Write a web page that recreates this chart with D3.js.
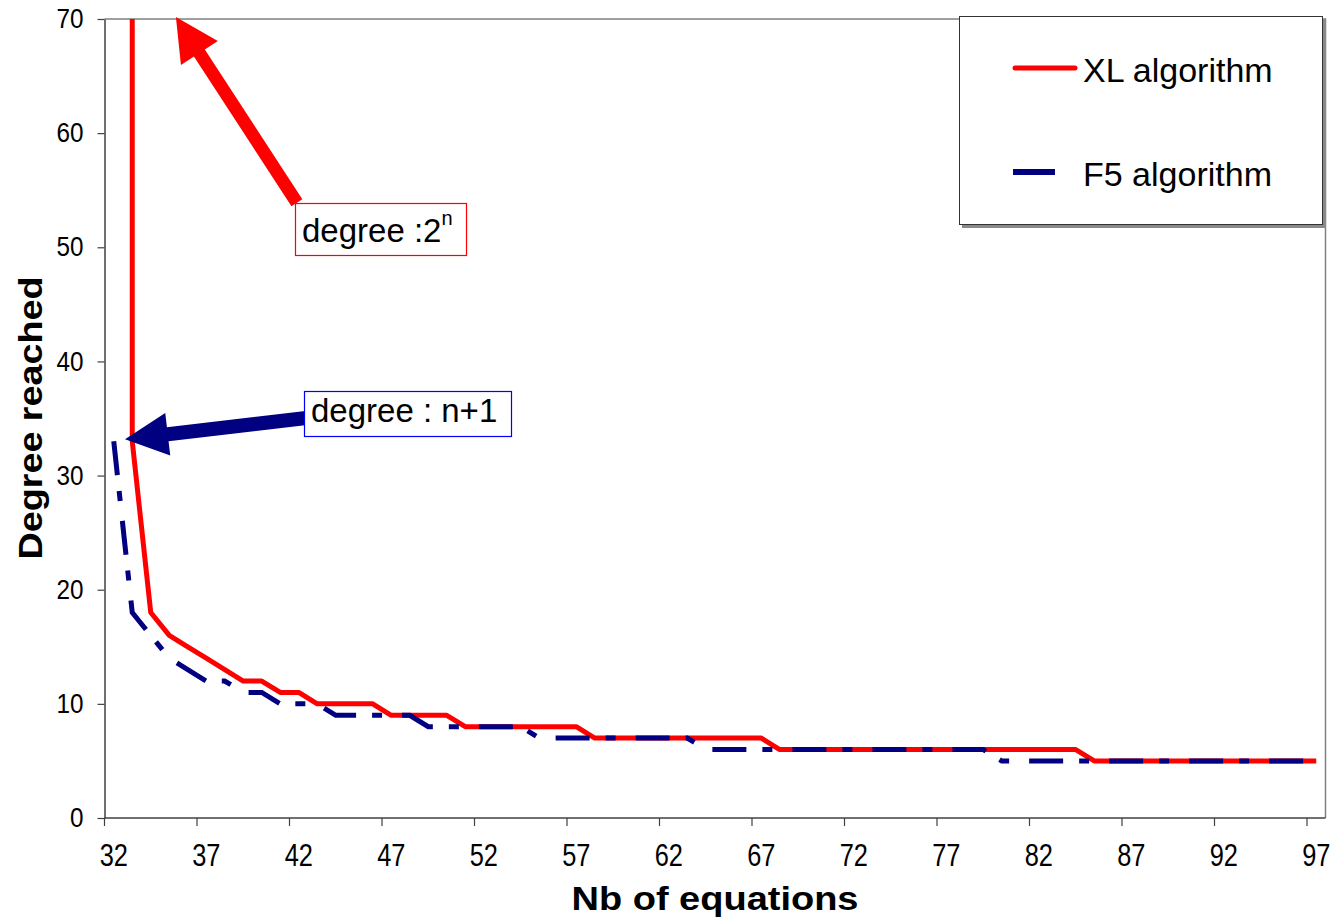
<!DOCTYPE html>
<html>
<head>
<meta charset="utf-8">
<script src="https://cdn.jsdelivr.net/npm/d3@7"></script>
<style>
  html, body { margin: 0; padding: 0; background: #fff; }
  svg { display: block; font-family: "Liberation Sans", Arial, sans-serif; }
</style>
</head>
<body>
<svg id="chart" width="1336" height="917"></svg>
<script>
// number of equations (one category per value)
const categories = [32, 33, 34, 35, 36, 37, 38, 39, 40, 41, 42, 43, 44, 45, 46, 47, 48, 49, 50, 51, 52,
  53, 54, 55, 56, 57, 58, 59, 60, 61, 62, 63, 64, 65, 66, 67, 68, 69, 70, 71, 72, 73, 74, 75, 76,
  77, 78, 79, 80, 81, 82, 83, 84, 85, 86, 87, 88, 89, 90, 91, 92, 93, 94, 95, 96, 97];

// XL: first point is off the scale (2^n), clipped by the plot
const xlValues = [65536, 33, 18, 16, 15, 14, 13, 12, 12, 11, 11, 10, 10, 10, 10, 9, 9, 9, 9, 8, 8,
  8, 8, 8, 8, 8, 7, 7, 7, 7, 7, 7, 7, 7, 7, 7, 6, 6, 6, 6, 6, 6, 6, 6, 6,
  6, 6, 6, 6, 6, 6, 6, 6, 5, 5, 5, 5, 5, 5, 5, 5, 5, 5, 5, 5, 5];

const f5Values = [33, 18, 16, 14, 13, 12, 12, 11, 11, 10, 10, 10, 9, 9, 9, 9, 9, 8, 8, 8, 8,
  8, 8, 7, 7, 7, 7, 7, 7, 7, 7, 7, 6, 6, 6, 6, 6, 6, 6, 6, 6, 6, 6, 6, 6,
  6, 6, 6, 5, 5, 5, 5, 5, 5, 5, 5, 5, 5, 5, 5, 5, 5, 5, 5, 5, 5];

const xTickLabels = [32, 37, 42, 47, 52, 57, 62, 67, 72, 77, 82, 87, 92, 97];
const yTicks = [0, 10, 20, 30, 40, 50, 60, 70];

const seriesNames = ["XL algorithm", "F5 algorithm"];

const svg = d3.select("#chart");
const pLeft = 104.5, pRight = 1325.5, pTop = 19, pBottom = 818;

const x = d3.scaleBand().domain(categories).range([pLeft, pRight]);
const xc = (c) => x(c) + x.bandwidth() / 2;
// continuous helper in category units, for the annotations
const xLin = d3.scaleLinear().domain([31.5, 97.5]).range([pLeft, pRight]);
const y = d3.scaleLinear().domain([0, 70]).range([pBottom, pTop]);

svg.append("defs").append("clipPath").attr("id", "plot")
  .append("rect").attr("x", pLeft).attr("y", pTop)
  .attr("width", pRight - pLeft).attr("height", pBottom - pTop);

// plot frame (top and right)
svg.append("path")
  .attr("d", `M${pLeft},${pTop}H${pRight}V${pBottom}`)
  .attr("fill", "none").attr("stroke", "#808080").attr("stroke-width", 1.5);

// y axis
const yAxis = svg.append("g").attr("transform", `translate(${pLeft},0)`)
  .call(d3.axisLeft(y).tickValues(yTicks).tickSize(7).tickPadding(14).tickSizeOuter(0));
yAxis.select(".domain").attr("stroke", "#404040").attr("stroke-width", 1.5);
yAxis.selectAll(".tick line").attr("stroke", "#404040").attr("stroke-width", 1.2);
yAxis.selectAll(".tick text")
  .attr("font-size", 27).attr("fill", "#000")
  .attr("font-family", '"Liberation Sans", Arial, sans-serif')
  .attr("transform", function () {
    const tx = +d3.select(this).attr("x");
    return `translate(${tx},0) scale(0.9,1) translate(${-tx},0)`;
  });

// x axis: ticks on category boundaries, labels in the middle
const xAxis = svg.append("g").attr("transform", `translate(0,${pBottom})`);
xAxis.append("line").attr("x1", pLeft).attr("x2", pRight)
  .attr("stroke", "#404040").attr("stroke-width", 1.5);
xAxis.selectAll("line.tk").data(xTickLabels).join("line").attr("class", "tk")
  .attr("x1", (d) => x(d)).attr("x2", (d) => x(d))
  .attr("y1", 0).attr("y2", 8)
  .attr("stroke", "#404040").attr("stroke-width", 1.2);
xAxis.selectAll("text").data(xTickLabels).join("text")
  .attr("transform", (d) => `translate(${xc(d)},48) scale(0.82,1)`)
  .attr("text-anchor", "middle")
  .attr("font-size", 31)
  .text((d) => d);

// axis titles
svg.append("text")
  .attr("x", (pLeft + pRight) / 2).attr("y", 910)
  .attr("text-anchor", "middle").attr("font-weight", "bold").attr("font-size", 33)
  .attr("textLength", 287).attr("lengthAdjust", "spacingAndGlyphs")
  .text("Nb of equations");
svg.append("text")
  .attr("transform", `translate(42,418) rotate(-90)`)
  .attr("text-anchor", "middle").attr("font-weight", "bold").attr("font-size", 33)
  .attr("textLength", 283).attr("lengthAdjust", "spacingAndGlyphs")
  .text("Degree reached");

// series
const line = d3.line().x((d) => xc(d[0])).y((d) => y(d[1]));
const plot = svg.append("g").attr("clip-path", "url(#plot)");
plot.append("path")
  .datum(categories.map((c, i) => [c, xlValues[i]]))
  .attr("d", line).attr("fill", "none")
  .attr("stroke", "#ff0000").attr("stroke-width", 5)
  .attr("stroke-linejoin", "round");
plot.append("path")
  .datum(categories.map((c, i) => [c, f5Values[i]]))
  .attr("d", line).attr("fill", "none")
  .attr("stroke", "#000080").attr("stroke-width", 5)
  .attr("stroke-dasharray", "34,16,10,20");

// arrows
function arrow(tip, tail, w, hw, hl) {
  const dx = tail[0] - tip[0], dy = tail[1] - tip[1];
  const len = Math.hypot(dx, dy), ux = dx / len, uy = dy / len;
  const px = -uy, py = ux;
  const b = [tip[0] + ux * hl, tip[1] + uy * hl];
  const pts = [
    tip,
    [b[0] + px * hw / 2, b[1] + py * hw / 2],
    [b[0] + px * w / 2, b[1] + py * w / 2],
    [tail[0] + px * w / 2, tail[1] + py * w / 2],
    [tail[0] - px * w / 2, tail[1] - py * w / 2],
    [b[0] - px * w / 2, b[1] - py * w / 2],
    [b[0] - px * hw / 2, b[1] - py * hw / 2]
  ];
  return "M" + pts.map((p) => p.join(",")).join("L") + "Z";
}
svg.append("path")
  .attr("d", arrow([xLin(35.36), y(70.18)], [xLin(41.9), y(53.9)], 13, 44, 43))
  .attr("fill", "#ff0000");
svg.append("path")
  .attr("d", arrow([xLin(32.61), y(33.18)], [xLin(42.4), y(35.04)], 14, 43, 43))
  .attr("fill", "#000080");

// annotation boxes
const note1 = svg.append("g");
note1.append("rect").attr("x", 295.5).attr("y", 203.5).attr("width", 171).attr("height", 52)
  .attr("fill", "#fff").attr("stroke", "#ff0000").attr("stroke-width", 1.2);
const t1 = note1.append("text").attr("x", 302).attr("y", 242).attr("font-size", 33);
t1.append("tspan").text("degree :2");
t1.append("tspan").attr("dy", -17).attr("font-size", 20).text("n");

const note2 = svg.append("g");
note2.append("rect").attr("x", 304.5).attr("y", 391.5).attr("width", 207).attr("height", 45)
  .attr("fill", "#fff").attr("stroke", "#0000ff").attr("stroke-width", 1.2);
note2.append("text").attr("x", 311).attr("y", 422).attr("font-size", 33).text("degree : n+1");

// legend
const lg = svg.append("g");
lg.append("rect").attr("x", 962).attr("y", 19).attr("width", 364).attr("height", 209).attr("fill", "#8a8a8a");
lg.append("rect").attr("x", 959.5).attr("y", 16.5).attr("width", 363).attr("height", 208)
  .attr("fill", "#fff").attr("stroke", "#333").attr("stroke-width", 1);
lg.append("line").attr("x1", 1015).attr("x2", 1075).attr("y1", 68).attr("y2", 68)
  .attr("stroke", "#ff0000").attr("stroke-width", 5).attr("stroke-linecap", "round");
lg.append("line").attr("x1", 1013).attr("x2", 1055).attr("y1", 172).attr("y2", 172)
  .attr("stroke", "#000080").attr("stroke-width", 6);
lg.selectAll("text").data(seriesNames).join("text")
  .attr("x", 1083).attr("y", (d, i) => (i === 0 ? 82 : 186))
  .attr("font-size", 34).text((d) => d);
</script>
</body>
</html>
